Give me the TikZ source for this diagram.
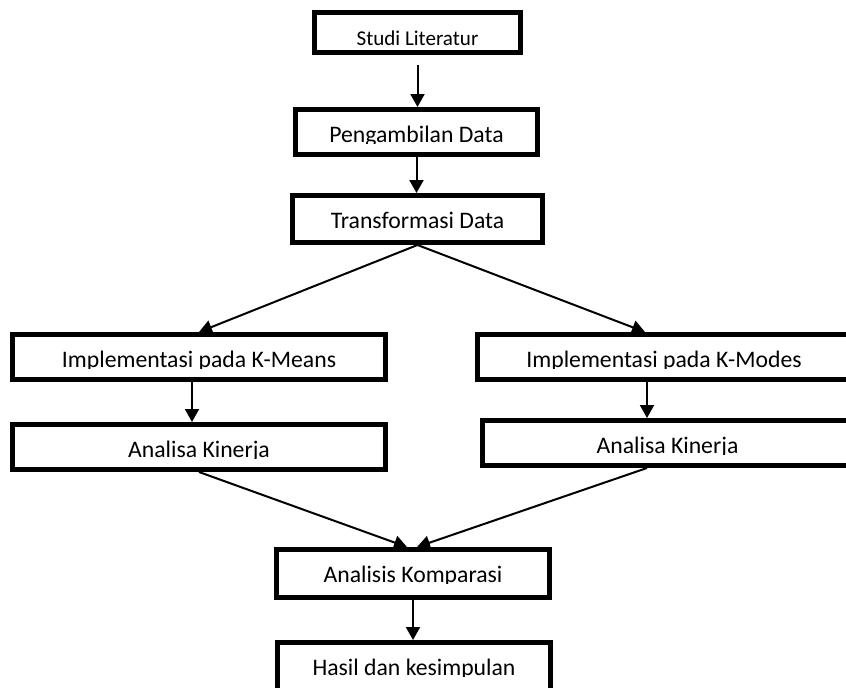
\documentclass[tikz,border=0pt]{standalone}
\usepackage{fontspec}
\setmainfont{Carlito}
\usetikzlibrary{arrows.meta, calc}

\begin{document}
\begin{tikzpicture}[
  x=0.02cm, y=-0.02cm,
  box/.style={draw, line width=0.1cm, inner sep=0pt, fill=white},
  cut/.style={path picture={
    \clip (path picture bounding box.north west) rectangle ([yshift=-0.68cm]path picture bounding box.north east);
    \node[anchor=base, inner sep=0pt, font=\fontsize{13.5}{16}\selectfont] at ([yshift=-0.65cm]path picture bounding box.north) {#1};}},
  arrow/.style={-{Triangle[length=0.26cm, width=0.28cm]}, line width=0.04cm}
]
  \path[use as bounding box] (0,0) rectangle (846,687);
  \clip (0,0) rectangle (846,687);

  % Alur utama
  \node[box, minimum width=4.12cm, minimum height=0.8cm, cut={\fontsize{12}{14}\selectfont Studi Literatur}] (studi) at (417.5,32.5) {};
  \node[box, minimum width=4.84cm, minimum height=0.9cm, cut={Pengambilan Data}] (ambil) at (416.5,132) {};
  \node[box, minimum width=5.0cm, minimum height=0.94cm, cut={Transformasi Data}] (trans) at (417.5,219) {};

  % Dua cabang
  \node[box, minimum width=7.46cm, minimum height=0.9cm, cut={Implementasi pada K-Means}] (kmeans) at (199,357) {};
  \node[box, minimum width=7.46cm, minimum height=0.9cm, cut={Analisa Kinerja}] (kinleft) at (199,447) {};
  \node[box, minimum width=7.46cm, minimum height=0.9cm, cut={Implementasi pada K-Modes}] (kmodes) at (664,357) {};
  \node[box, minimum width=7.4cm, minimum height=0.9cm, cut={Analisa Kinerja}] (kinright) at (667.5,443) {};

  % Penutup
  \node[box, minimum width=5.46cm, minimum height=0.96cm, cut={Analisis Komparasi}] (komp) at (413,573.5) {};
  \node[box, minimum width=5.46cm, minimum height=1.1cm, cut={Hasil dan kesimpulan}] (hasil) at (414,670) {};

  \draw[arrow, shorten <=0.2cm] (studi.south) -- (studi.south |- ambil.north);
  \draw[arrow] (ambil.south) -- (ambil.south |- trans.north);
  \draw[arrow] (trans.south) -- (kmeans.north);
  \draw[arrow] (trans.south) -- ([xshift=-0.38cm]kmodes.north);
  \draw[arrow] ([xshift=-0.14cm]kmeans.south) -- ([xshift=-0.14cm]kinleft.north);
  \draw[arrow] ([xshift=-0.34cm]kmodes.south) -- ([xshift=-0.34cm]kmodes.south |- kinright.north);
  \draw[arrow] (kinleft.south) -- ([xshift=-0.12cm]komp.north);
  \draw[arrow] ([xshift=-0.41cm]kinright.south) -- ([xshift=0.08cm]komp.north);
  \draw[arrow] (komp.south) -- (komp.south |- hasil.north);

\end{tikzpicture}
\end{document}
